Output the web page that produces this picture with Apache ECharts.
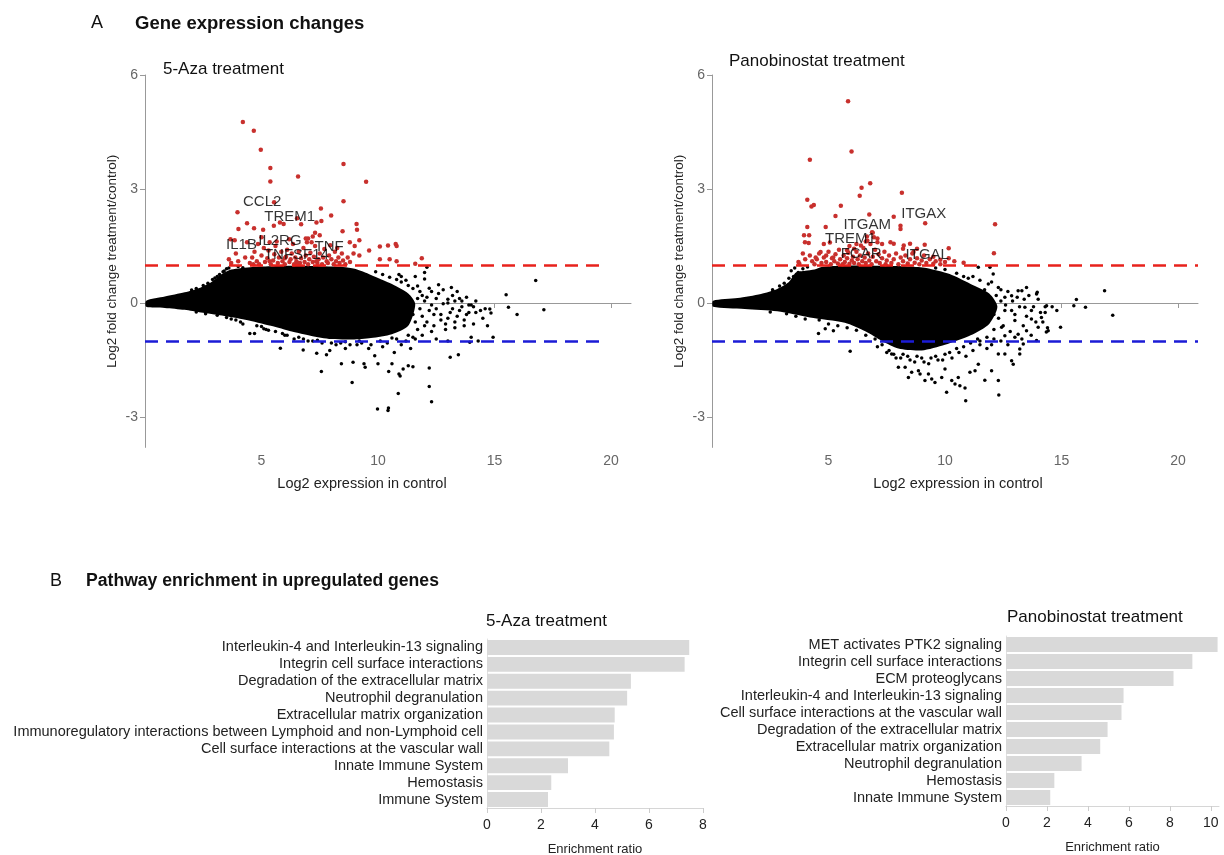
<!DOCTYPE html>
<html>
<head>
<meta charset="utf-8">
<script src="https://cdn.jsdelivr.net/npm/echarts@6/dist/echarts.min.js"></script>
<style>
  html, body { margin: 0; background: #fff; }
  #chart { width: 1224px; height: 855px; }
</style>
</head>
<body>
<div id="chart"></div>
<script>
// ---------- A: MA plots ----------
// dense core of the black cloud, outline as [log2 expr, log2 FC]
const azaCloud = [
  [0.05, 0.06], [0.85, 0.17], [1.7, 0.28], [2.4, 0.41], [2.85, 0.55], [3.3, 0.76], [3.7, 0.88],
  [4.6, 0.95], [5.5, 0.97], [6.5, 0.98], [7.5, 0.97], [8.5, 0.95], [9.0, 0.9], [9.7, 0.74],
  [10.6, 0.5], [11.3, 0.25], [11.6, -0.03],
  [11.3, -0.6], [10.6, -0.82], [9.7, -0.92], [8.9, -0.96], [8.0, -0.95], [7.1, -0.86],
  [6.3, -0.75], [5.4, -0.6], [4.3, -0.44], [3.3, -0.33], [2.4, -0.25], [1.7, -0.18],
  [0.85, -0.13], [0.05, -0.1]
];
// scattered black genes outside the core
const azaBlack = [
  [2.9, 0.62], [3.1, 0.7], [3.4, 0.84], [3.5, 0.9], [3.6, 0.92], [4.0, 0.96], [4.2, 0.93],
  [9.9, 0.82], [10.2, 0.75], [10.5, 0.68], [10.8, 0.62], [11.0, 0.55], [11.3, 0.46], [11.5, 0.38],
  [11.8, 0.3], [12.1, 0.94], [12.0, 0.63], [12.2, 0.39], [12.6, 0.48], [13.15, 0.41], [11.7, 0.12],
  [12.0, 0.05], [12.3, -0.05], [12.5, 0.12], [12.8, -0.02], [13.0, 0.1], [13.3, 0.05], [13.5, 0.12],
  [13.2, -0.15], [13.6, -0.1], [13.9, -0.05], [14.1, -0.1], [14.2, -0.25], [14.4, -0.2], [13.8, -0.3],
  [13.4, -0.35], [13.0, -0.4], [12.7, -0.45], [12.4, -0.3], [12.1, -0.5], [11.9, -0.35], [11.7, -0.7],
  [12.3, -0.75], [12.9, -0.7], [13.3, -0.65], [13.7, -0.6], [14.0, -0.9], [14.3, -1.0], [14.7, -0.6],
  [14.8, -0.16], [14.85, -0.26], [14.94, -0.9], [15.5, 0.22], [15.6, -0.11], [15.97, -0.3],
  [16.77, 0.59], [17.12, -0.18], [13.1, -1.43], [13.45, -1.36], [13.94, -1.03], [12.2, -1.71],
  [12.2, -2.2], [12.3, -2.6], [4.5, -0.8], [4.7, -0.8], [5.1, -0.68], [5.3, -0.72], [5.81, -1.19],
  [6.0, -0.85], [6.4, -0.95], [6.79, -1.24], [7.0, -1.0], [7.37, -1.32], [7.57, -1.8], [7.79, -1.36],
  [7.93, -1.25], [8.2, -1.1], [8.43, -1.6], [8.6, -1.2], [8.93, -1.56], [8.89, -2.09], [9.1, -1.1],
  [9.4, -1.6], [9.45, -1.69], [9.6, -1.2], [9.86, -1.39], [10.0, -1.6], [10.2, -1.15], [9.98, -2.79],
  [10.43, -2.83], [10.45, -2.76], [10.46, -1.8], [10.6, -1.6], [10.7, -1.3], [10.87, -2.38],
  [10.9, -1.87], [10.95, -1.92], [11.0, -1.1], [11.08, -1.74], [11.3, -1.65], [11.5, -1.68],
  [11.4, -1.2], [11.6, -0.95], [11.2, -1.0], [3.5, -0.38], [3.9, -0.45], [4.2, -0.55], [8.0, -1.05],
  [9.3, -1.05], [10.4, -1.05],
  [11.0, 0.7], [11.2, 0.6], [11.4, 0.1], [11.5, -0.3], [11.6, -0.5], [11.7, 0.45], [11.8, -0.15],
  [11.9, 0.2], [12.0, -0.6], [12.1, 0.15], [12.2, -0.2], [12.3, 0.3], [12.4, -0.6], [12.5, -0.15],
  [12.6, 0.25], [12.7, -0.3], [12.8, 0.35], [12.9, -0.55], [13.0, 0.0], [13.1, -0.25], [13.2, 0.2],
  [13.3, -0.5], [13.4, 0.3], [13.5, -0.2], [13.6, 0.05], [13.7, -0.45], [13.8, 0.15], [13.9, -0.25],
  [14.0, -0.05], [14.1, -0.55], [14.2, 0.05], [14.5, -0.4], [14.6, -0.15], [11.3, -0.85],
  [11.5, -0.9], [11.9, -0.85], [12.5, -0.95], [13.0, -1.0], [12.0, 0.8], [11.6, 0.7], [10.9, 0.75],
  [4.8, -0.6], [5.2, -0.7], [5.6, -0.75], [6.1, -0.85], [6.6, -0.9], [7.2, -1.0], [7.6, -1.05],
  [8.4, -1.05], [8.8, -1.1], [9.7, -1.1], [10.1, -1.0], [10.8, -0.95], [5.0, -0.62], [5.9, -0.8],
  [6.8, -0.95], [7.4, -0.98], [8.6, -1.02], [9.2, -1.0], [10.6, -0.92], [3.1, -0.32], [3.7, -0.42],
  [4.1, -0.5], [2.6, -0.28], [2.2, -0.24], [2.5, 0.46], [2.7, 0.52], [3.0, 0.66], [3.2, 0.75],
  [3.35, 0.82], [2.2, 0.38], [2.0, 0.34]
];
// upregulated genes (red)
const azaRed = [
  [4.2, 4.76], [4.67, 4.53], [4.97, 4.03], [5.38, 3.55], [5.38, 3.2], [6.57, 3.33], [8.52, 3.66],
  [9.49, 3.19], [8.52, 2.68], [7.55, 2.49], [7.99, 2.3], [5.54, 2.65], [3.97, 2.39], [4.38, 2.1],
  [4.01, 1.95], [4.68, 1.97], [5.07, 1.93], [5.53, 2.03], [5.79, 2.12], [5.95, 2.08], [6.53, 2.23],
  [6.7, 2.07], [7.36, 2.12], [7.57, 2.16], [9.08, 2.08], [9.1, 1.93], [8.48, 1.89], [7.3, 1.85],
  [7.5, 1.78], [7.2, 1.75], [7.0, 1.7], [3.67, 1.68], [3.85, 1.65], [4.38, 1.6], [5.0, 1.73],
  [5.35, 1.6], [6.19, 1.68], [6.9, 1.7], [6.95, 1.6], [8.79, 1.6], [9.0, 1.5], [9.2, 1.65],
  [8.95, 1.3], [9.2, 1.25], [9.62, 1.38], [10.08, 1.49], [10.43, 1.51], [10.76, 1.55], [10.8, 1.5],
  [10.08, 1.15], [10.5, 1.15], [10.8, 1.1], [11.6, 1.03], [11.88, 1.18], [3.6, 1.15], [3.7, 1.05],
  [4.0, 1.1], [4.3, 1.2], [3.9, 1.3],
  [4.5, 1.05], [4.6, 1.2], [4.7, 1.35], [4.8, 1.1], [4.9, 1.02], [5.0, 1.25], [5.1, 1.45],
  [5.15, 1.08], [5.25, 1.18], [5.3, 1.38], [5.4, 1.02], [5.5, 1.12], [5.55, 1.28], [5.6, 1.5],
  [5.7, 1.05], [5.75, 1.2], [5.85, 1.35], [5.9, 1.1], [6.0, 1.02], [6.05, 1.22], [6.1, 1.4],
  [6.2, 1.08], [6.25, 1.15], [6.3, 1.3], [6.4, 1.02], [6.45, 1.2], [6.5, 1.1], [6.6, 1.35],
  [6.65, 1.05], [6.7, 1.18], [6.8, 1.45], [6.85, 1.08], [6.9, 1.25], [7.0, 1.02], [7.05, 1.15],
  [7.1, 1.32], [7.2, 1.08], [7.25, 1.22], [7.3, 1.5], [7.4, 1.05], [7.45, 1.15], [7.5, 1.3],
  [7.6, 1.02], [7.65, 1.2], [7.7, 1.42], [7.8, 1.1], [7.85, 1.05], [7.9, 1.25], [8.0, 1.15],
  [8.1, 1.02], [8.15, 1.35], [8.2, 1.1], [8.3, 1.2], [8.35, 1.05], [8.45, 1.3], [8.5, 1.12],
  [8.6, 1.02], [8.7, 1.2], [8.8, 1.08], [4.85, 1.55], [5.65, 1.62], [6.35, 1.55], [7.15, 1.6],
  [7.95, 1.52], [8.25, 1.45], [6.0, 1.18], [6.55, 1.05], [7.35, 1.1], [5.35, 1.1], [4.65, 1.02]
];
const azaGenes = [
  ['CCL2', 5.03, 2.65], ['TREM1', 6.21, 2.28], ['IL2RG', 5.79, 1.64],
  ['IL1B', 4.14, 1.53], ['TNF', 7.9, 1.49], ['TNFSF14', 6.5, 1.26]
];

const panoCloud = [
  [0.05, 0.06], [1.1, 0.13], [2.1, 0.24], [2.8, 0.37], [3.3, 0.55], [3.6, 0.8], [4.0, 0.85],
  [4.4, 0.88], [4.7, 0.95], [5.5, 0.98], [6.5, 0.99], [7.5, 0.98], [8.5, 0.96], [9.2, 0.92],
  [10.2, 0.76], [11.1, 0.5], [11.9, 0.25], [12.25, -0.1],
  [11.9, -0.55], [11.1, -0.85], [10.0, -1.1], [9.0, -1.25], [8.0, -1.2], [7.3, -1.0],
  [6.6, -0.75], [5.7, -0.52], [4.2, -0.38], [2.8, -0.22], [1.4, -0.16], [0.05, -0.1]
];
const panoBlack = [
  [3.4, 0.85], [3.55, 0.92], [3.7, 0.8], [3.9, 0.9], [4.1, 0.95], [4.3, 0.82], [3.5, 0.7],
  [11.43, 0.94], [11.93, 0.94], [12.07, 0.76], [11.86, 0.5], [12.29, 0.41], [12.57, 0.15],
  [12.86, 0.19], [13.14, 0.32], [13.5, 0.41], [13.93, 0.24], [14.36, -0.07], [14.14, -0.38],
  [13.71, -0.42], [13.36, -0.6], [13.0, -0.46], [12.57, -0.2], [12.86, -0.2], [13.43, -0.11],
  [13.71, -0.2], [12.43, -0.64], [12.57, -0.86], [13.14, -0.82], [13.5, -0.73], [14.43, -0.73],
  [16.85, 0.32], [15.64, 0.09], [15.53, -0.07], [16.03, -0.11], [17.2, -0.32], [14.6, -0.1],
  [14.8, -0.2], [14.96, -0.64], [14.4, -0.65], [14.35, -0.76], [14.0, -0.64], [13.96, 0.28],
  [14.3, -0.1], [14.3, -0.25], [13.3, 0.32], [12.4, 0.05], [12.1, -0.3],
  [4.57, -0.8], [5.21, -0.73], [4.86, -0.68], [5.93, -1.27], [7.71, -1.34], [8.0, -1.69],
  [8.29, -1.69], [8.43, -1.96], [8.57, -1.82], [8.86, -1.78], [8.93, -1.87], [9.14, -2.04],
  [9.29, -1.87], [9.43, -2.0], [9.57, -2.09], [9.86, -1.96], [10.0, -1.74], [10.07, -2.35],
  [10.29, -2.04], [10.43, -2.13], [10.57, -1.96], [10.64, -2.18], [10.86, -2.24], [10.89, -2.57],
  [11.07, -1.82], [11.29, -1.78], [11.43, -1.61], [11.71, -2.03], [12.0, -1.78], [12.29, -2.04],
  [12.31, -2.42], [12.29, -1.34], [12.57, -1.34], [12.86, -1.52], [12.93, -1.61], [13.21, -1.34],
  [13.21, -1.21], [13.36, -1.08], [13.93, -0.99], [7.3, -1.1], [7.6, -1.25], [7.9, -1.45],
  [8.2, -1.35], [8.5, -1.5], [8.8, -1.4], [9.1, -1.55], [9.4, -1.45], [9.7, -1.5], [10.0, -1.35],
  [10.3, -1.45], [10.6, -1.3], [10.9, -1.4], [11.2, -1.25], [11.5, -1.1], [11.8, -1.2], [12.1, -0.95],
  [11.2, 0.7], [11.5, 0.6], [11.7, 0.35], [12.0, 0.55], [12.2, 0.2], [12.4, 0.35], [12.6, -0.05],
  [12.7, 0.3], [12.9, 0.05], [13.0, -0.3], [13.1, 0.15], [13.2, -0.1], [13.4, 0.1], [13.5, -0.35],
  [13.6, 0.2], [13.8, -0.1], [13.9, -0.5], [14.0, 0.1], [14.1, -0.25], [14.2, -0.5], [12.3, -0.4],
  [12.1, -0.7], [12.5, -0.6], [12.8, -0.75], [13.0, -0.9], [12.4, -1.0], [12.7, -1.1], [11.8, -0.9],
  [11.5, -1.0], [12.0, -1.1], [13.3, -0.95], [13.7, -0.85],
  [4.6, -0.45], [5.0, -0.55], [5.4, -0.6], [5.8, -0.65], [6.2, -0.72], [6.6, -0.85], [7.0, -0.95],
  [7.1, -1.15], [7.5, -1.3], [7.8, -1.35], [8.1, -1.45], [8.4, -1.4], [8.7, -1.55], [9.0, -1.45],
  [9.3, -1.6], [9.6, -1.4], [9.9, -1.5], [10.2, -1.3], [10.5, -1.2], [10.8, -1.15], [11.1, -1.05],
  [11.4, -0.95], [3.6, -0.35], [4.0, -0.42], [3.2, -0.28], [2.5, -0.24], [2.6, 0.35], [2.9, 0.45],
  [3.1, 0.52], [3.3, 0.65], [10.5, 0.78], [10.8, 0.7], [11.0, 0.65], [9.6, 0.92], [10.0, 0.88]
];
const panoRed = [
  [5.84, 5.31], [5.99, 3.99], [4.2, 3.77], [6.79, 3.15], [6.42, 3.03], [6.34, 2.82], [8.15, 2.9],
  [4.09, 2.72], [4.37, 2.58], [4.27, 2.54], [5.53, 2.56], [5.3, 2.29], [6.75, 2.33], [7.8, 2.27],
  [9.15, 2.1], [12.15, 2.07], [4.09, 2.0], [4.88, 2.0], [8.09, 2.03], [8.09, 1.95], [3.95, 1.78],
  [4.17, 1.78], [3.99, 1.6], [4.15, 1.58], [4.8, 1.55], [5.06, 1.59], [12.1, 1.31], [10.16, 1.44],
  [9.13, 1.53], [3.71, 1.08], [3.75, 1.03], [7.66, 1.6], [7.8, 1.56], [8.23, 1.51], [8.5, 1.56],
  [8.2, 1.43], [8.65, 1.34], [8.8, 1.43], [6.87, 1.86], [6.95, 1.73], [7.1, 1.6], [6.67, 1.64],
  [6.39, 1.51], [6.1, 1.43], [5.8, 1.39], [4.66, 1.34], [4.9, 1.25], [5.2, 1.2], [4.45, 1.2],
  [4.2, 1.25], [10.16, 1.18], [9.8, 1.14], [9.5, 1.22], [10.4, 1.1], [10.8, 1.06],
  [4.4, 1.02], [4.5, 1.15], [4.6, 1.3], [4.7, 1.05], [4.8, 1.2], [4.9, 1.08], [5.0, 1.35],
  [5.1, 1.02], [5.15, 1.18], [5.25, 1.1], [5.3, 1.28], [5.4, 1.04], [5.45, 1.4], [5.5, 1.15],
  [5.6, 1.02], [5.65, 1.25], [5.7, 1.08], [5.8, 1.18], [5.85, 1.32], [5.9, 1.03], [6.0, 1.12],
  [6.05, 1.22], [6.1, 1.05], [6.2, 1.35], [6.25, 1.15], [6.3, 1.02], [6.35, 1.25], [6.45, 1.1],
  [6.5, 1.45], [6.55, 1.2], [6.6, 1.05], [6.7, 1.3], [6.75, 1.12], [6.8, 1.55], [6.85, 1.02],
  [6.9, 1.22], [7.0, 1.4], [7.05, 1.1], [7.1, 1.7], [7.15, 1.28], [7.2, 1.05], [7.3, 1.18],
  [7.4, 1.35], [7.45, 1.02], [7.5, 1.12], [7.6, 1.25], [7.7, 1.05], [7.8, 1.15], [7.9, 1.3],
  [8.0, 1.02], [8.1, 1.2], [8.2, 1.1], [8.3, 1.25], [8.4, 1.04], [8.5, 1.15], [8.6, 1.3],
  [8.7, 1.06], [8.8, 1.18], [8.9, 1.02], [9.0, 1.12], [9.1, 1.25], [9.2, 1.05], [9.35, 1.15],
  [9.5, 1.03], [9.6, 1.1], [9.8, 1.02], [10.0, 1.08], [6.6, 1.62], [6.9, 1.85], [6.65, 1.75],
  [6.2, 1.55], [5.9, 1.5], [7.3, 1.55], [4.3, 1.1], [4.0, 1.15], [3.9, 1.3]
];
const panoGenes = [
  ['ITGAX', 9.09, 2.34], ['ITGAM', 6.66, 2.05], ['TREM1', 5.94, 1.7],
  ['FCAR', 6.4, 1.29], ['ITGAL', 9.24, 1.27]
];
const cutoffs = [1, -1];
const maTicksX = [5, 10, 15, 20];
const maTicksY = [-3, 0, 3, 6];

// ---------- B: pathway enrichment ----------
const azaPathways = [
  'Interleukin-4 and Interleukin-13 signaling', 'Integrin cell surface interactions',
  'Degradation of the extracellular matrix', 'Neutrophil degranulation',
  'Extracellular matrix organization',
  'Immunoregulatory interactions between Lymphoid and non-Lymphoid cell',
  'Cell surface interactions at the vascular wall', 'Innate Immune System', 'Hemostasis',
  'Immune System'
];
const azaRatio = [7.49, 7.32, 5.33, 5.19, 4.73, 4.7, 4.53, 3.0, 2.38, 2.26];
const panoPathways = [
  'MET activates PTK2 signaling', 'Integrin cell surface interactions', 'ECM proteoglycans',
  'Interleukin-4 and Interleukin-13 signaling', 'Cell surface interactions at the vascular wall',
  'Degradation of the extracellular matrix', 'Extracellular matrix organization',
  'Neutrophil degranulation', 'Hemostasis', 'Innate Immune System'
];
const panoRatio = [10.33, 9.1, 8.18, 5.74, 5.64, 4.96, 4.6, 3.69, 2.36, 2.16];

const FONT = 'Liberation Sans, Arial, sans-serif';
const chart = echarts.init(document.getElementById('chart'));

function maXAxis(i, shift) {
  return {
    gridIndex: i, type: 'value', min: 0, max: 20.86,
    axisLine: { show: true, lineStyle: { color: '#999' } },
    axisTick: { show: true, length: 5, customValues: maTicksX, lineStyle: { color: '#999' } },
    axisLabel: { customValues: maTicksX, color: '#666', fontSize: 14, margin: 7, fontFamily: FONT },
    splitLine: { show: false },
    name: 'Log2 expression in control', nameLocation: 'middle', nameGap: 29,
    nameTextStyle: { color: '#222', fontSize: 14.5, fontFamily: FONT,
      padding: shift < 0 ? [0, -2 * shift, 0, 0] : [0, 0, 0, 2 * shift] }
  };
}
function maYAxis(i) {
  return {
    gridIndex: i, type: 'value', min: -3.8, max: 6,
    axisLine: { show: true, lineStyle: { color: '#999' } },
    axisTick: { show: true, length: 5, customValues: maTicksY, lineStyle: { color: '#999' } },
    axisLabel: { customValues: maTicksY, color: '#666', fontSize: 14, margin: 7, fontFamily: FONT },
    splitLine: { show: false },
    name: 'Log2 fold change treatment/control)', nameLocation: 'middle', nameGap: 26,
    nameTextStyle: { color: '#222', fontSize: 13.5, fontFamily: FONT }
  };
}
function cloudSeries(i, pts) {
  return {
    type: 'custom', xAxisIndex: i, yAxisIndex: i, silent: true, z: 1,
    data: [[pts[0][0], pts[0][1]]],
    renderItem: (params, api) => ({
      type: 'polygon',
      shape: { points: pts.map(p => api.coord(p)), smooth: 0.25 },
      style: { fill: '#000' }
    })
  };
}
function dotSeries(i, pts, color, size, z) {
  return {
    type: 'scatter', xAxisIndex: i, yAxisIndex: i, data: pts, symbolSize: size, z: z,
    silent: true, itemStyle: { color: color, opacity: 1 }
  };
}
function cutoffSeries(i, xmax) {
  const colors = ['#e8221c', '#1b1bd6'];
  return {
    type: 'scatter', xAxisIndex: i, yAxisIndex: i, data: [], z: 5, silent: true,
    markLine: {
      silent: true, symbol: 'none', label: { show: false },
      data: cutoffs.map((c, k) => [
        { coord: [0, c], lineStyle: { color: colors[k], width: 2.5, type: [13, 8] } },
        { coord: [xmax, c] }
      ])
    }
  };
}
function geneLabels(i, genes) {
  return {
    type: 'scatter', xAxisIndex: i, yAxisIndex: i, z: 6, silent: true, symbolSize: 0,
    itemStyle: { color: '#000' },
    data: genes.map(g => ({ name: g[0], value: [g[1], g[2]] })),
    label: {
      show: true, position: 'inside', formatter: '{b}', color: '#000', fontSize: 15,
      fontFamily: FONT, textBorderWidth: 0
    }
  };
}
function barX(i, max, ticks) {
  return {
    gridIndex: i, type: 'value', min: 0, max: max,
    axisLine: { show: true, lineStyle: { color: '#d6d6d6' } },
    axisTick: { show: true, length: 5, customValues: ticks, lineStyle: { color: '#ccc' } },
    axisLabel: { customValues: ticks, color: '#222', fontSize: 14, margin: 10, fontFamily: FONT },
    splitLine: { show: false },
    name: 'Enrichment ratio', nameLocation: 'middle', nameGap: 35,
    nameTextStyle: { color: '#222', fontSize: 13, fontFamily: FONT }
  };
}
function barY(i, cats) {
  return {
    gridIndex: i, type: 'category', data: cats, inverse: true,
    axisLine: { show: true, lineStyle: { color: '#e2e2e2' } },
    axisTick: { show: false },
    axisLabel: { interval: 0, color: '#222', fontSize: 14.5, margin: 4, fontFamily: FONT }
  };
}
function barSeries(i, vals) {
  return {
    type: 'bar', xAxisIndex: i, yAxisIndex: i, data: vals, barCategoryGap: '12%',
    silent: true, itemStyle: { color: '#d9d9d9' }
  };
}

const txt = (text, left, top, size, weight) => ({
  text: text, left: left, top: top, padding: 0,
  textStyle: { fontSize: size, fontWeight: weight || 'normal', color: '#111', fontFamily: FONT }
});

chart.setOption({
  animation: false,
  backgroundColor: '#fff',
  title: [
    txt('A', 91, 14, 18),
    txt('Gene expression changes', 135, 14, 18.5, 'bold'),
    txt('5-Aza treatment', 163, 61, 17),
    txt('Panobinostat treatment', 729, 53, 17),
    txt('B', 50, 572, 18),
    txt('Pathway enrichment in upregulated genes', 86, 572, 17.6, 'bold'),
    txt('5-Aza treatment', 486, 613, 17),
    txt('Panobinostat treatment', 1007, 609, 17)
  ],
  grid: [
    { left: 145, top: 75, width: 486, height: 372.4, outerBoundsMode: 'none' },
    { left: 712, top: 75, width: 486, height: 372.4, outerBoundsMode: 'none' },
    { left: 487, top: 639, width: 216, height: 169, outerBoundsMode: 'none' },
    { left: 1006, top: 636, width: 213, height: 170, outerBoundsMode: 'none' }
  ],
  xAxis: [maXAxis(0, -26), maXAxis(1, 3), barX(2, 8, [0, 2, 4, 6, 8]), barX(3, 10.4, [0, 2, 4, 6, 8, 10])],
  yAxis: [maYAxis(0), maYAxis(1), barY(2, azaPathways), barY(3, panoPathways)],
  series: [
    cloudSeries(0, azaCloud),
    dotSeries(0, azaBlack, '#000', 3.5, 2),
    dotSeries(0, azaRed, '#c8302d', 4.5, 3),
    cutoffSeries(0, 19.8),
    geneLabels(0, azaGenes),
    cloudSeries(1, panoCloud),
    dotSeries(1, panoBlack, '#000', 3.5, 2),
    dotSeries(1, panoRed, '#c8302d', 4.5, 3),
    cutoffSeries(1, 20.86),
    geneLabels(1, panoGenes),
    barSeries(2, azaRatio),
    barSeries(3, panoRatio)
  ]
});
</script>
</body>
</html>
